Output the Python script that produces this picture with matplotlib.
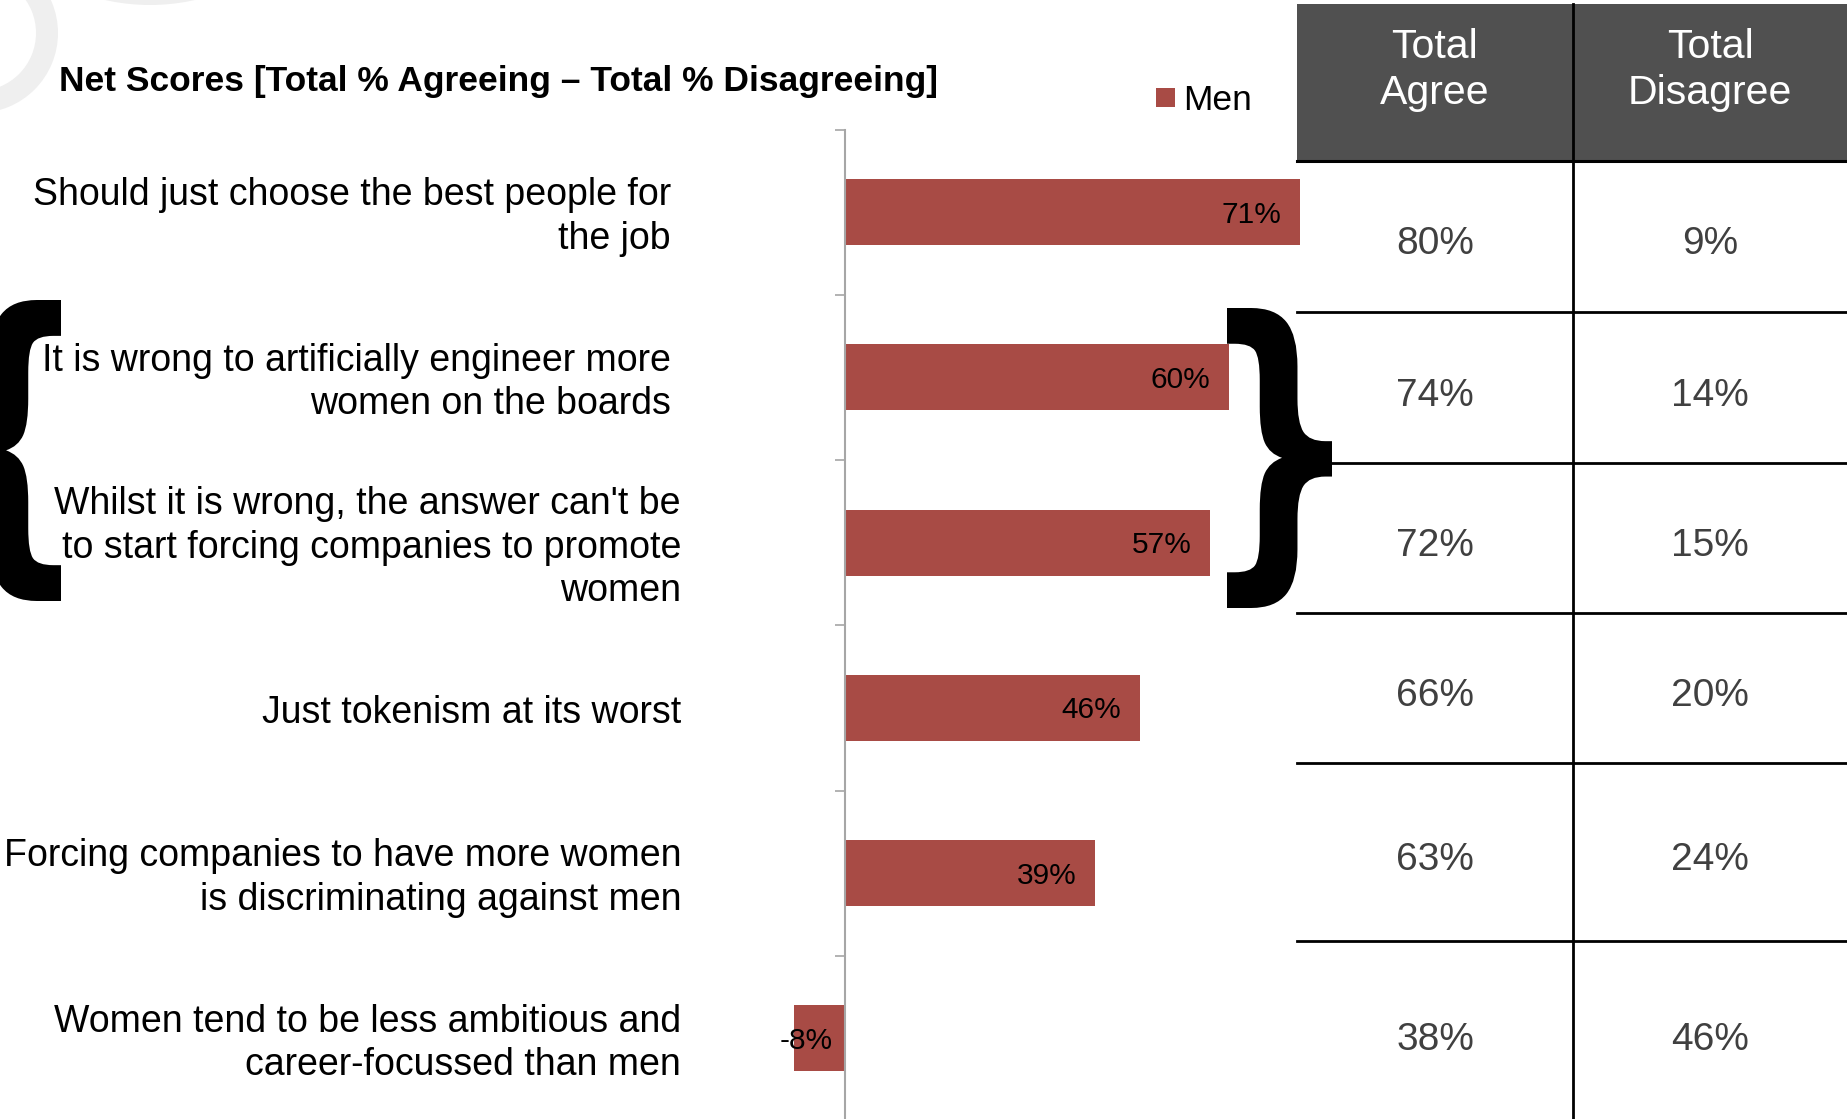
import matplotlib
matplotlib.use("Agg")
import matplotlib.pyplot as plt
from matplotlib.patches import Rectangle, Wedge, PathPatch
from matplotlib.lines import Line2D
from matplotlib.textpath import TextPath
from matplotlib.font_manager import FontProperties
from matplotlib.transforms import Affine2D, blended_transform_factory

# statements, net score for men (% agree - % disagree) and the totals table
statements = [
    "Should just choose the best people for\nthe job",
    "It is wrong to artificially engineer more\nwomen on the boards",
    "Whilst it is wrong, the answer can't be\nto start forcing companies to promote\nwomen",
    "Just tokenism at its worst",
    "Forcing companies to have more women\nis discriminating against men",
    "Women tend to be less ambitious and\ncareer-focussed than men",
]
net_men = [71, 60, 57, 46, 39, -8]
total_agree = [80, 74, 72, 66, 63, 38]
total_disagree = [9, 14, 15, 20, 24, 46]
table_header = ["Total\nAgree", "Total\nDisagree"]

TITLE = "Net Scores [Total % Agreeing \u2013 Total % Disagreeing]"
BAR_COLOR = "#A84B45"
FONT = ["Liberation Sans", "DejaVu Sans"]

W, H = 1847, 1119
fig = plt.figure(figsize=(W / 100, H / 100), dpi=100)
fig.patch.set_facecolor("white")

# pixel coordinates with the origin at the top-left corner
px = Affine2D().scale(1 / W, -1 / H).translate(0, 1) + fig.transFigure

# faint logo rings in the corner
fig.add_artist(Wedge((-22, 33), 80, 0, 360, width=22, transform=px,
                     color="#efefef", lw=0))
fig.add_artist(Wedge((150, -200), 205, 0, 360, width=30, transform=px,
                     color="#efefef", lw=0))

# --- bar chart ---------------------------------------------------------
x0_px, unit_px = 845, 6.405          # zero line and pixels per percent
xmin, xmax = -20, 75
top_px, bot_px = 129.6, 1121
ax = fig.add_axes([(x0_px + xmin * unit_px) / W, 1 - bot_px / H,
                   (xmax - xmin) * unit_px / W, (bot_px - top_px) / H])
ax.set_facecolor("none")

ypos = list(range(len(statements)))
ax.barh(ypos, net_men, height=0.4, color=BAR_COLOR, zorder=2)
ax.set_xlim(xmin, xmax)
ax.set_ylim(len(statements) - 0.5, -0.5)

for y, v in zip(ypos, net_men):
    if v >= 0:
        ax.text(v - 2.9, y + 0.015, f"{v}%", ha="right", va="center",
                fontsize=21.5, family=FONT, color="black", zorder=3)
    else:
        ax.text(v - 2.2, y + 0.015, f"{v}%", ha="left", va="center",
                fontsize=21.5, family=FONT, color="black", zorder=3)

for s in ["top", "right", "bottom"]:
    ax.spines[s].set_visible(False)
ax.spines["left"].set_color("#a6a6a6")
ax.spines["left"].set_linewidth(1.5)
ax.spines["left"].set_position(("data", 0))
ax.set_xticks([])
ax.set_yticks([y - 0.5 for y in range(len(statements) + 1)])
ax.set_yticklabels([])
ax.tick_params(axis="y", direction="out", length=7, width=1.2,
               color="#a6a6a6")

# statement labels, right aligned against a fixed pixel edge
label_tr = blended_transform_factory(px, ax.transData)
label_right = [671, 671, 681, 681, 681, 681]
for y, txt, xr in zip(ypos, statements, label_right):
    ax.text(xr, y + 0.03, txt, transform=label_tr, ha="right", va="center",
            fontsize=27, family=FONT, color="black", linespacing=1.27)

fig.text(59 / W, 1 - 81 / H, TITLE, ha="left", va="center",
         fontsize=25.5, family=FONT, fontweight="bold", color="black")

# legend
fig.add_artist(Rectangle((1156, 88), 19, 19, transform=px,
                         color=BAR_COLOR, lw=0))
fig.text(1183 / W, 1 - 100 / H, "Men", ha="left", va="center",
         fontsize=25.5, family=FONT, color="black")

# --- totals table --------------------------------------------------------
tab_left, tab_mid, tab_right = 1297, 1573, W + 5
head_top, head_bot = 3.5, 161
row_lines = [head_bot, 312, 463, 613, 763, 941, H + 5]

fig.add_artist(Rectangle((tab_left, head_top), tab_right - tab_left,
                         head_bot - head_top, transform=px,
                         color="#505050", lw=0))
for y in row_lines[:-1]:
    fig.add_artist(Line2D([tab_left, tab_right], [y, y], transform=px,
                          color="black", lw=2.2 if y == head_bot else 2.0))
fig.add_artist(Line2D([tab_mid, tab_mid], [head_top, H + 5], transform=px,
                      color="black", lw=2.0))

col_centers = [(tab_left + tab_mid) / 2, (tab_mid + W) / 2]
for cx, head in zip(col_centers, table_header):
    fig.text(cx / W, 1 - 70 / H, head, ha="center", va="center",
             fontsize=29.5, family=FONT, color="white", linespacing=1.24)

for i, (a, d) in enumerate(zip(total_agree, total_disagree)):
    cy = (row_lines[i] + min(row_lines[i + 1], H + 3)) / 2 + 8
    for cx, v in zip(col_centers, (a, d)):
        fig.text(cx / W, 1 - cy / H, f"{v}%", ha="center", va="center",
                 fontsize=28, family=FONT, color="#404040")


# --- braces grouping the two "wrong" statements --------------------------
def brace(char, x0, y0, x1, y1):
    tp = TextPath((0, 0), char, size=100,
                  prop=FontProperties(family="DejaVu Sans", weight="bold"))
    ext = tp.get_extents()
    tr = (Affine2D().translate(-ext.x0, -ext.y0)
          .scale((x1 - x0) / ext.width, -(y1 - y0) / ext.height)
          .translate(x0, y1))
    fig.add_artist(PathPatch(tr.transform_path(tp), transform=px,
                             facecolor="black", lw=0))


brace("{", -44, 300, 61, 601)
brace("}", 1227, 308, 1332, 608)

fig.savefig("out.png", dpi=100)
